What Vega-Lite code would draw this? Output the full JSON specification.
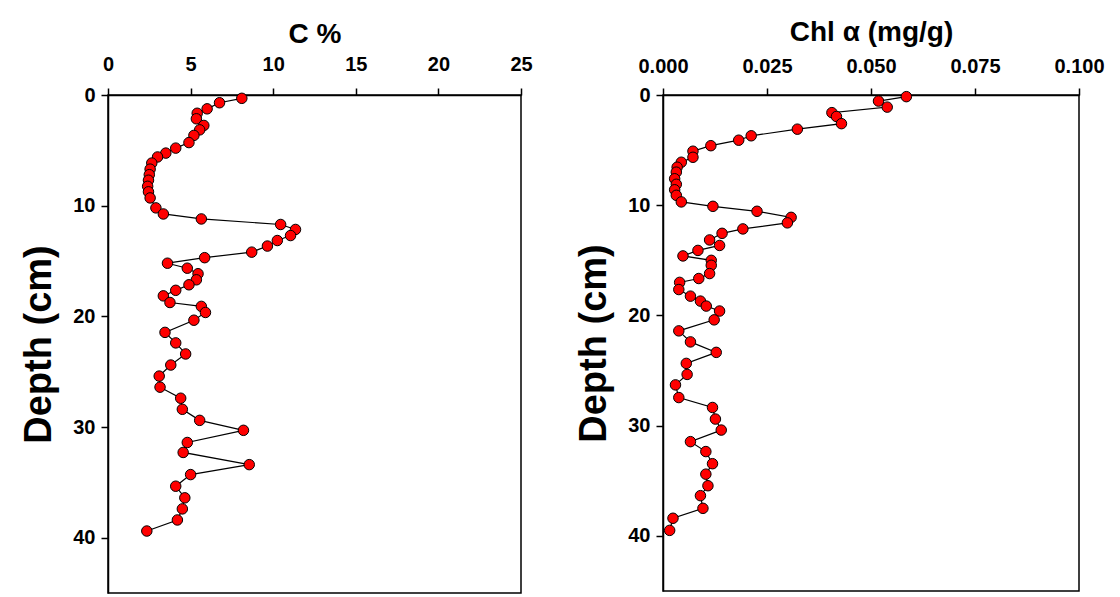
{
  "$schema": "https://vega.github.io/schema/vega-lite/v6.json",
  "background": "white",
  "padding": {"left": 20, "top": 17, "right": 20, "bottom": 5},
  "bounds": "flush",
  "spacing": 142,
  "datasets": {
    "carbon": [
      {"depth": 0.3, "c": 8.1}, {"depth": 0.7, "c": 6.75}, {"depth": 1.25, "c": 6.0}, {"depth": 1.65, "c": 5.4},
      {"depth": 2.15, "c": 5.35}, {"depth": 2.75, "c": 5.8}, {"depth": 3.15, "c": 5.55}, {"depth": 3.65, "c": 5.2},
      {"depth": 4.3, "c": 4.9}, {"depth": 4.8, "c": 4.1}, {"depth": 5.25, "c": 3.5}, {"depth": 5.6, "c": 3.0},
      {"depth": 6.15, "c": 2.65}, {"depth": 6.7, "c": 2.55}, {"depth": 7.2, "c": 2.5}, {"depth": 7.7, "c": 2.45},
      {"depth": 8.25, "c": 2.4}, {"depth": 8.75, "c": 2.45}, {"depth": 9.3, "c": 2.55}, {"depth": 10.2, "c": 2.9},
      {"depth": 10.75, "c": 3.35}, {"depth": 11.2, "c": 5.65}, {"depth": 11.7, "c": 10.45}, {"depth": 12.15, "c": 11.35},
      {"depth": 12.7, "c": 11.05}, {"depth": 13.15, "c": 10.25}, {"depth": 13.65, "c": 9.65}, {"depth": 14.2, "c": 8.7},
      {"depth": 14.7, "c": 5.85}, {"depth": 15.2, "c": 3.6}, {"depth": 15.65, "c": 4.8}, {"depth": 16.15, "c": 5.45},
      {"depth": 16.7, "c": 5.35}, {"depth": 17.15, "c": 4.9}, {"depth": 17.65, "c": 4.1}, {"depth": 18.15, "c": 3.35},
      {"depth": 18.75, "c": 3.75}, {"depth": 19.1, "c": 5.65}, {"depth": 19.65, "c": 5.9}, {"depth": 20.35, "c": 5.2},
      {"depth": 21.45, "c": 3.45}, {"depth": 22.4, "c": 4.1}, {"depth": 23.4, "c": 4.7}, {"depth": 24.4, "c": 3.8},
      {"depth": 25.4, "c": 3.1}, {"depth": 26.4, "c": 3.15}, {"depth": 27.4, "c": 4.4}, {"depth": 28.4, "c": 4.5},
      {"depth": 29.4, "c": 5.55}, {"depth": 30.3, "c": 8.2}, {"depth": 31.4, "c": 4.8}, {"depth": 32.3, "c": 4.55},
      {"depth": 33.4, "c": 8.55}, {"depth": 34.3, "c": 5.0}, {"depth": 35.35, "c": 4.1}, {"depth": 36.4, "c": 4.65},
      {"depth": 37.4, "c": 4.5}, {"depth": 38.4, "c": 4.2}, {"depth": 39.4, "c": 2.35}
    ],
    "chl": [
      {"depth": 0.15, "chl": 0.0585}, {"depth": 0.55, "chl": 0.0518}, {"depth": 1.1, "chl": 0.0539}, {"depth": 1.6, "chl": 0.0406},
      {"depth": 1.95, "chl": 0.0417}, {"depth": 2.6, "chl": 0.0429}, {"depth": 3.1, "chl": 0.0323}, {"depth": 3.7, "chl": 0.0212},
      {"depth": 4.1, "chl": 0.0182}, {"depth": 4.6, "chl": 0.0115}, {"depth": 5.1, "chl": 0.0072}, {"depth": 5.65, "chl": 0.0072},
      {"depth": 6.1, "chl": 0.0044}, {"depth": 6.55, "chl": 0.0034}, {"depth": 7.0, "chl": 0.0032}, {"depth": 7.6, "chl": 0.0028},
      {"depth": 8.1, "chl": 0.0032}, {"depth": 8.6, "chl": 0.0028}, {"depth": 9.1, "chl": 0.0032}, {"depth": 9.7, "chl": 0.0044},
      {"depth": 10.1, "chl": 0.012}, {"depth": 10.55, "chl": 0.0226}, {"depth": 11.1, "chl": 0.0308}, {"depth": 11.6, "chl": 0.0299},
      {"depth": 12.15, "chl": 0.0192}, {"depth": 12.55, "chl": 0.0142}, {"depth": 13.15, "chl": 0.0112}, {"depth": 13.65, "chl": 0.0136},
      {"depth": 14.1, "chl": 0.0084}, {"depth": 14.6, "chl": 0.0048}, {"depth": 15.0, "chl": 0.0116}, {"depth": 15.45, "chl": 0.0116},
      {"depth": 16.2, "chl": 0.0112}, {"depth": 16.65, "chl": 0.0086}, {"depth": 17.0, "chl": 0.004}, {"depth": 17.65, "chl": 0.0038},
      {"depth": 18.25, "chl": 0.0066}, {"depth": 18.7, "chl": 0.009}, {"depth": 19.15, "chl": 0.0104}, {"depth": 19.6, "chl": 0.0136},
      {"depth": 20.4, "chl": 0.0123}, {"depth": 21.4, "chl": 0.0038}, {"depth": 22.4, "chl": 0.0066}, {"depth": 23.35, "chl": 0.0128},
      {"depth": 24.35, "chl": 0.0056}, {"depth": 25.35, "chl": 0.0058}, {"depth": 26.3, "chl": 0.003}, {"depth": 27.45, "chl": 0.0038},
      {"depth": 28.35, "chl": 0.0119}, {"depth": 29.4, "chl": 0.0126}, {"depth": 30.4, "chl": 0.014}, {"depth": 31.45, "chl": 0.0066},
      {"depth": 32.35, "chl": 0.0103}, {"depth": 33.45, "chl": 0.0119}, {"depth": 34.4, "chl": 0.0103}, {"depth": 35.45, "chl": 0.0108},
      {"depth": 36.35, "chl": 0.009}, {"depth": 37.5, "chl": 0.0096}, {"depth": 38.4, "chl": 0.0024}, {"depth": 39.5, "chl": 0.0016}
    ]
  },
  "config": {
    "view": {"stroke": "black", "strokeWidth": 1.5},
    "font": "Liberation Sans",
    "axis": {
      "grid": false,
      "labelFlush": false,
      "labelOverlap": false,
      "domainColor": "black",
      "domainWidth": 1.5,
      "tickColor": "black",
      "tickWidth": 1.5,
      "tickSize": 7,
      "labelFont": "Liberation Sans",
      "labelFontWeight": "bold",
      "labelFontSize": 20,
      "labelColor": "black",
      "titleFont": "Liberation Sans",
      "titleFontWeight": "bold",
      "titleColor": "black"
    }
  },
  "hconcat": [
    {
      "width": 413,
      "height": 498,
      "data": {"name": "carbon"},
      "encoding": {
        "x": {"field": "c", "type": "quantitative", "scale": {"domain": [0, 25], "nice": false, "zero": false},
          "axis": {"orient": "top", "values": [0, 5, 10, 15, 20, 25], "title": "C %", "titleFontSize": 28, "titlePadding": 6, "labelPadding": 14}},
        "y": {"field": "depth", "type": "quantitative", "scale": {"domain": [0, 45], "nice": false, "zero": false, "reverse": true},
          "axis": {"values": [0, 10, 20, 30, 40], "title": "Depth (cm)", "titleFontSize": 38, "titlePadding": 14, "labelPadding": 6}}
      },
      "layer": [
        {
          "mark": {"type": "line", "color": "black", "strokeWidth": 1.2},
          "encoding": {"order": {"field": "depth", "type": "quantitative"}}
        },
        {
          "mark": {"type": "point", "filled": true, "fill": "#ff0000", "stroke": "black", "strokeWidth": 1, "size": 110, "opacity": 1},
          "encoding": {}
        }
      ]
    },
    {
      "width": 416,
      "height": 496,
      "data": {"name": "chl"},
      "encoding": {
        "x": {"field": "chl", "type": "quantitative", "scale": {"domain": [0, 0.1], "nice": false, "zero": false},
          "axis": {"orient": "top", "values": [0, 0.025, 0.05, 0.075, 0.1], "format": ".3f", "title": "Chl α (mg/g)", "titleFontSize": 28, "titlePadding": 10, "labelPadding": 12}},
        "y": {"field": "depth", "type": "quantitative", "scale": {"domain": [0, 45], "nice": false, "zero": false, "reverse": true},
          "axis": {"values": [0, 10, 20, 30, 40], "title": "Depth (cm)", "titleFontSize": 38, "titlePadding": 14, "labelPadding": 6}}
      },
      "layer": [
        {
          "mark": {"type": "line", "color": "black", "strokeWidth": 1.2},
          "encoding": {"order": {"field": "depth", "type": "quantitative"}}
        },
        {
          "mark": {"type": "point", "filled": true, "fill": "#ff0000", "stroke": "black", "strokeWidth": 1, "size": 110, "opacity": 1},
          "encoding": {}
        }
      ]
    }
  ]
}
